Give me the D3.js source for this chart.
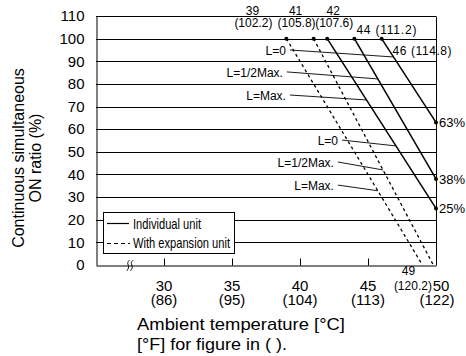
<!DOCTYPE html>
<html>
<head>
<meta charset="utf-8">
<script src="https://cdn.jsdelivr.net/npm/d3@7"></script>
<style>
  body { margin: 0; background: #fff; }
  svg text { font-family: "Liberation Sans", Arial, sans-serif; fill: #000; }
</style>
</head>
<body>
<svg id="chart" width="466" height="356"></svg>
<script>
// values
const lineTemps = [39, 41, 42, 44, 46];          // °C at 100 %
const lineTempsF = ["102.2", "105.8", "107.6", "111.2", "114.8"];
const lineEndTemps = [49, 49.8, 50, 50, 50];
const lineEndRatios = [0, 0, 25, 38, 63];
const lineTypes = ["dashed", "dashed", "solid", "solid", "solid"];

const xTicks = [30, 35, 40, 45, 50];
const xTicksF = ["86", "95", "104", "113", "122"];
const yTicks = [0, 10, 20, 30, 40, 50, 60, 70, 80, 90, 100, 110];

const noteLabels = ["L=0", "L=1/2Max.", "L=Max.", "L=0", "L=1/2Max.", "L=Max."];
const noteLine = [4, 3, 2, 2, 1, 0];
const noteStartTemp = [39.26, 39.04, 39.26, 43.09, 42.79, 42.79];
const noteStartRatio = [95.0, 85.3, 75.1, 55.2, 45.5, 35.3];
const noteEndRatio = [91.9, 82.2, 72.9, 52.6, 42.0, 32.8];

const svg = d3.select("#chart");
const plotLeft = 96, plotRight = 436, plotTop = 16, plotBottom = 265;

const x = d3.scaleLinear().domain([25, 50]).range([plotLeft, plotRight]);
const y = d3.scaleLinear().domain([0, 110]).range([plotBottom, plotTop]);
const px = v => Math.round(v) + 0.5;

// point on a line at a given ratio
function tempAt(i, r) {
  return lineTemps[i] + (r - 100) / (lineEndRatios[i] - 100) * (lineEndTemps[i] - lineTemps[i]);
}

// grid
svg.append("g").selectAll("line")
  .data(yTicks.filter(d => d > 0))
  .enter().append("line")
  .attr("x1", plotLeft).attr("x2", plotRight)
  .attr("y1", d => px(y(d))).attr("y2", d => px(y(d)))
  .attr("stroke", "#000").attr("stroke-width", 1);

svg.append("line")
  .attr("x1", px(plotRight)).attr("x2", px(plotRight))
  .attr("y1", px(y(110))).attr("y2", px(y(0)))
  .attr("stroke", "#000");

// y axis
const yAxis = d3.axisLeft(y).tickValues(yTicks).tickSize(0).tickPadding(12);
svg.append("g")
  .attr("transform", `translate(${px(plotLeft)},0)`)
  .call(yAxis)
  .call(g => g.select(".domain").attr("stroke", "#000"))
  .call(g => g.selectAll("text").attr("font-size", 15).attr("font-family", "Liberation Sans, Arial, sans-serif"));

// x axis, ticks pointing up
const xAxis = d3.axisBottom(x).tickValues(xTicks.slice(0, 4)).tickSizeInner(-7).tickSizeOuter(0).tickFormat("");
svg.append("g")
  .attr("transform", `translate(0,${px(plotBottom)})`)
  .call(xAxis)
  .call(g => g.selectAll("line, path").attr("stroke", "#000"));

// axis break marks
const bx = x(27.5);
const wave = d3.line().curve(d3.curveBasis);
[-1.8, 1.8].forEach(off => {
  svg.append("path")
    .attr("d", wave([[bx + off + 1.5, 260], [bx + off - 1.5, 263], [bx + off + 1.5, 267], [bx + off - 1.5, 271]]))
    .attr("fill", "none").attr("stroke", "#000").attr("stroke-width", 0.9);
});

// x tick labels: °C over (°F)
const xl = svg.append("g").attr("font-size", 15).attr("text-anchor", "middle")
  .selectAll("text").data(xTicks).enter().append("text");
xl.append("tspan")
  .attr("x", (d, i) => x(d) + (i === 4 ? 5 : 0))
  .attr("y", 291)
  .text(d => d);
xl.append("tspan")
  .attr("x", (d, i) => x(d) + (i === 4 ? 1 : 0))
  .attr("y", 305)
  .text((d, i) => `(${xTicksF[i]})`);

// series lines
svg.append("g").selectAll("line")
  .data(lineTemps)
  .enter().append("line")
  .attr("x1", d => x(d)).attr("y1", y(100))
  .attr("x2", (d, i) => x(lineEndTemps[i])).attr("y2", (d, i) => y(lineEndRatios[i]))
  .attr("stroke", "#000")
  .attr("stroke-width", (d, i) => lineTypes[i] === "dashed" ? 1.3 : 1.5)
  .attr("stroke-dasharray", (d, i) => lineTypes[i] === "dashed" ? "3,3" : null);

// dots
svg.append("g").selectAll("circle")
  .data(lineTemps)
  .enter().append("circle")
  .attr("cx", d => x(d)).attr("cy", y(100)).attr("r", 2).attr("fill", "#000");
svg.append("g").selectAll("circle")
  .data(lineEndRatios.filter(r => r > 0))
  .enter().append("circle")
  .attr("cx", x(50)).attr("cy", d => y(d)).attr("r", 2).attr("fill", "#000");

// end ratio labels
svg.append("g").selectAll("text")
  .data(lineEndRatios.filter(r => r > 0))
  .enter().append("text")
  .attr("x", x(50) + 3).attr("y", d => y(d) + 5)
  .attr("font-size", 13)
  .text(d => d + "%");

// top temperature labels
const tl = svg.append("g").attr("font-size", 12);
const twoLineOff = [[-34, -33], [-18, -17], [6, 7]];
[0, 1, 2].forEach(i => {
  const t = tl.append("text").attr("text-anchor", "middle");
  t.append("tspan").attr("x", x(lineTemps[i]) + twoLineOff[i][0]).attr("y", 15).text(lineTemps[i]);
  t.append("tspan").attr("x", x(lineTemps[i]) + twoLineOff[i][1]).attr("y", 27).text(`(${lineTempsF[i]})`);
});
tl.append("text").attr("x", x(lineTemps[3]) + 2).attr("y", 34)
  .attr("textLength", 60).attr("lengthAdjust", "spacing")
  .text(`${lineTemps[3]} (${lineTempsF[3]})`);
tl.append("text").attr("x", x(lineTemps[4]) + 11).attr("y", 55)
  .attr("textLength", 59).attr("lengthAdjust", "spacing")
  .text(`${lineTemps[4]} (${lineTempsF[4]})`);

// 49 (120.2) at the bottom
const t49 = tl.append("text").attr("text-anchor", "middle");
t49.append("tspan").attr("x", x(lineEndTemps[0]) - 14).attr("y", 275).text(lineEndTemps[0]);
t49.append("tspan").attr("x", x(lineEndTemps[0]) - 9.5).attr("y", 290).text("(120.2)");

// L= annotations
const notes = svg.append("g").attr("font-size", 12);
noteLabels.forEach((lab, k) => {
  const sx = x(noteStartTemp[k]), sy = y(noteStartRatio[k]);
  const er = noteEndRatio[k];
  notes.append("line")
    .attr("x1", sx).attr("y1", sy)
    .attr("x2", x(tempAt(noteLine[k], er))).attr("y2", y(er))
    .attr("stroke", "#000").attr("stroke-width", 0.9);
  notes.append("text")
    .attr("text-anchor", "end")
    .attr("x", sx - 4).attr("y", sy + 5)
    .text(lab);
});

// legend
const lg = svg.append("g");
lg.append("rect")
  .attr("x", 103.5).attr("y", 212.5).attr("width", 131).attr("height", 41)
  .attr("fill", "#fff").attr("stroke", "#000");
lg.append("line").attr("x1", 107).attr("x2", 129).attr("y1", 223.5).attr("y2", 223.5)
  .attr("stroke", "#000").attr("stroke-width", 1.2);
lg.append("line").attr("x1", 107).attr("x2", 130).attr("y1", 243.5).attr("y2", 243.5)
  .attr("stroke", "#000").attr("stroke-width", 1.2).attr("stroke-dasharray", "4,3");
lg.append("text").attr("x", 133).attr("y", 229).attr("font-size", 15)
  .attr("textLength", 68).attr("lengthAdjust", "spacingAndGlyphs").text("Individual unit");
lg.append("text").attr("x", 133).attr("y", 248).attr("font-size", 15)
  .attr("textLength", 97).attr("lengthAdjust", "spacingAndGlyphs").text("With expansion unit");

// axis titles
svg.append("text").attr("x", 137).attr("y", 330).attr("font-size", 17)
  .attr("textLength", 208).attr("lengthAdjust", "spacingAndGlyphs")
  .text("Ambient temperature [°C]");
svg.append("text").attr("x", 137).attr("y", 350).attr("font-size", 17)
  .attr("textLength", 150).attr("lengthAdjust", "spacingAndGlyphs")
  .text("[°F] for figure in ( ).");

const yt = svg.append("g").attr("transform", "translate(0,158) rotate(-90)")
  .attr("font-size", 16).attr("text-anchor", "middle");
yt.append("text").attr("x", 0).attr("y", 24).text("Continuous simultaneous");
yt.append("text").attr("x", 0).attr("y", 41).text("ON ratio (%)");
</script>
</body>
</html>
